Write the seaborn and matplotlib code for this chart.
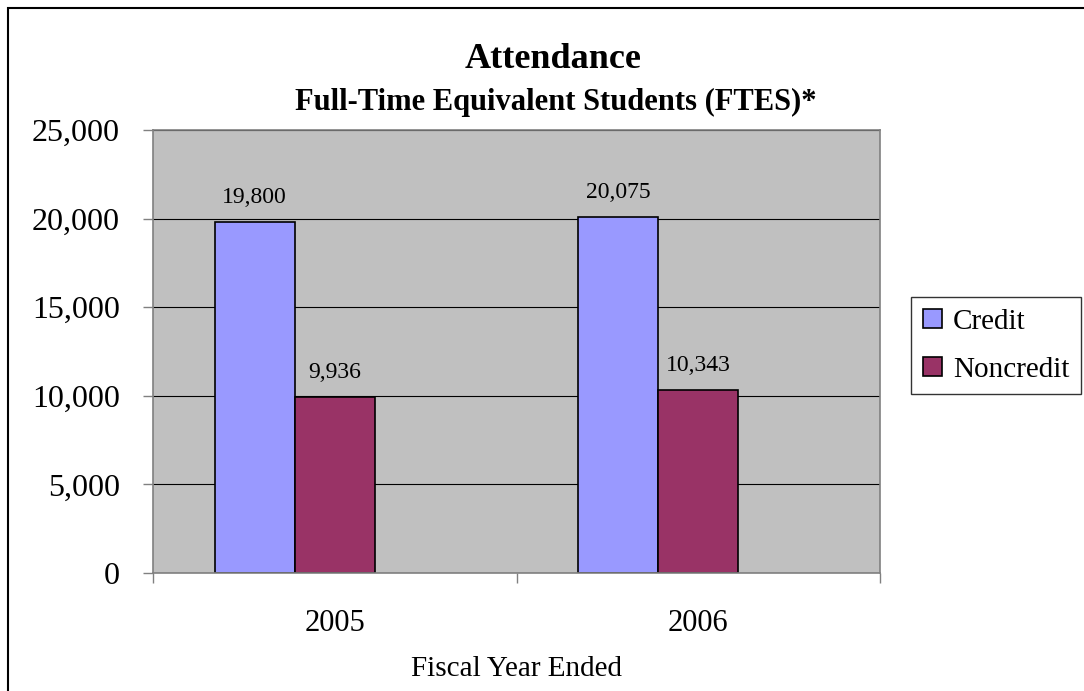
import pandas as pd
import seaborn as sns
import matplotlib.pyplot as plt
from matplotlib.patches import Rectangle
from matplotlib.ticker import MultipleLocator, FuncFormatter

# dados
anos = ["2005", "2006"]
credito = [19800, 20075]
nao_credito = [9936, 10343]
series = ["Credit", "Noncredit"]
cores = ["#9999FF", "#993366"]

df = pd.DataFrame({
    "ano": anos * 2,
    "tipo": [series[0]] * 2 + [series[1]] * 2,
    "fte": credito + nao_credito,
})

sns.set_style("white")
plt.rcParams["font.family"] = ["Liberation Serif", "DejaVu Serif"]
plt.rcParams["text.color"] = "black"
plt.rcParams["xtick.color"] = "black"
plt.rcParams["ytick.color"] = "black"
plt.rcParams["axes.labelcolor"] = "black"

fig = plt.figure(figsize=(10.84, 6.91), dpi=100)
ax = fig.add_axes([153 / 1084, 1 - 573 / 691, (880 - 153) / 1084, (573 - 130) / 691])

# o Excel reserva espaço para uma terceira série vazia, por isso o hue_order com 3 níveis
paleta = {series[0]: cores[0], series[1]: cores[1], " ": "white"}
sns.barplot(data=df, x="ano", y="fte", hue="tipo", hue_order=series + [" "], palette=paleta,
            width=0.66, saturation=1, edgecolor="black", linewidth=1.2, ax=ax, legend=False)

ax.set_facecolor("#C0C0C0")
ax.set_xlim(-0.5, 1.5)
ax.set_ylim(0, 25000)
ax.yaxis.set_major_locator(MultipleLocator(5000))
ax.yaxis.set_major_formatter(FuncFormatter(lambda v, p: f"{v:,.0f}"))
ax.grid(axis="y", color="black", linewidth=0.8)
ax.set_axisbelow(True)
for s in ax.spines.values():
    s.set_color("#808080")
    s.set_linewidth(1.2)

# rótulos das barras
for cont in ax.containers:
    if len(cont.datavalues):
        ax.bar_label(cont, labels=[f"{v:,.0f}" for v in cont.datavalues], padding=10, fontsize=17)

ax.tick_params(axis="y", labelsize=23, length=7, width=1, color="#808080", direction="out", left=True, pad=17)
ax.set_xticks([-0.5, 0.5, 1.5], minor=False)
ax.set_xticklabels([])
ax.set_xticks([0, 1], minor=True)
ax.set_xticklabels(anos, minor=True)
ax.tick_params(axis="x", which="major", length=7, width=1, color="#808080", direction="out", bottom=True)
ax.tick_params(axis="x", which="minor", length=0, labelsize=22, pad=26)

ax.set_xlabel("Fiscal Year Ended", fontsize=21, labelpad=13)
ax.set_ylabel("")

fig.text(553 / 1084, 1 - 59 / 691, "Attendance", ha="center", va="center", fontsize=26, fontweight="bold")
fig.text(556 / 1084, 1 - 102 / 691, "Full-Time Equivalent Students (FTES)*", ha="center", va="center",
         fontsize=22, fontweight="bold")

handles = [Rectangle((0, 0), 1, 1, facecolor=c, edgecolor="black", linewidth=1.2) for c in cores]
leg = fig.legend(handles, series, loc="upper left", bbox_to_anchor=(911 / 1084, 1 - 297 / 691),
                 fontsize=21, frameon=True, fancybox=False, edgecolor="black", borderpad=0.4,
                 handlelength=0.65, handleheight=0.65, handletextpad=0.38, labelspacing=0.75, borderaxespad=0)
leg.get_frame().set_linewidth(1)

# moldura externa do gráfico (só bordas esquerda e superior aparecem no recorte)
fig.patches.append(Rectangle((8 / 1084, -0.05), 1.2, 1 - 8 / 691 + 0.05, transform=fig.transFigure,
                             fill=False, edgecolor="black", linewidth=1.5))

fig.savefig("out.png", dpi=100)
